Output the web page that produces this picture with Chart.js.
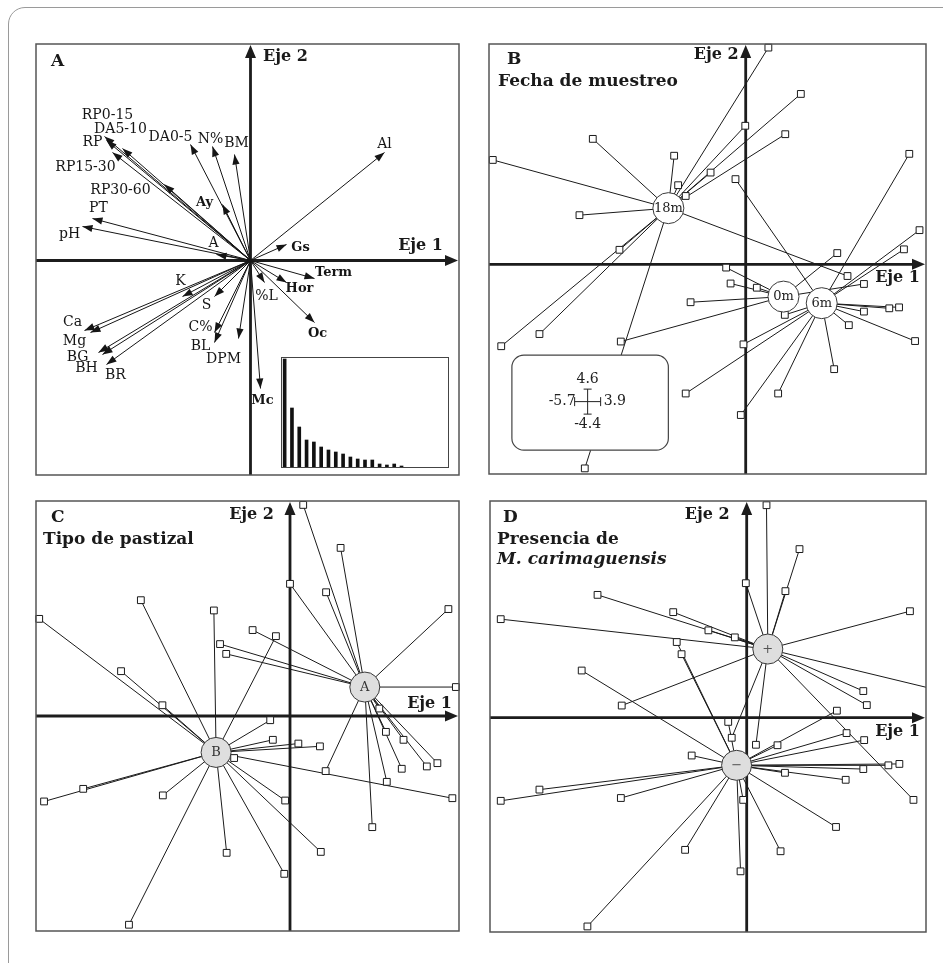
<!DOCTYPE html>
<html lang="es">
<head>
<meta charset="utf-8">
<title>Análisis de componentes principales</title>
<script src="https://cdn.jsdelivr.net/npm/chart.js@4.4.1/dist/chart.umd.min.js"></script>
<style>
  html, body { margin: 0; padding: 0; background: #fff; }
  body { position: relative; width: 943px; height: 963px; overflow: hidden; }
  #marco { position: absolute; left: 8px; top: 7px; width: 1000px; height: 1000px;
           border: 1px solid #9a9a9a; border-top-left-radius: 17px; }
  canvas { position: absolute; }
</style>
</head>
<body>
<div id="marco"></div>
<canvas id="panelA" width="457" height="465" style="left:19px;top:27px"></canvas>
<canvas id="panelB" width="471" height="464" style="left:472px;top:27px"></canvas>
<canvas id="panelC" width="457" height="464" style="left:19px;top:484px"></canvas>
<canvas id="panelD" width="470" height="465" style="left:473px;top:484px"></canvas>
<canvas id="inset" width="170" height="113" style="left:280px;top:356px"></canvas>
<script>
// ---- A: cargas de las variables ----
const variables = ['RP0-15', 'RP', 'DA5-10', 'RP15-30', 'RP30-60', 'DA0-5', 'N%', 'BM', 'Ay', 'PT', 'pH', 'A', 'K', 'S',
  'Ca', 'Mg', 'BG', 'BH', 'BR', 'C%', 'BL', 'DPM', 'Mc', '%L', 'Gs', 'Term', 'Hor', 'Oc', 'Al'];
const cargaEje1 = [-0.73, -0.72, -0.64, -0.69, -0.43, -0.30, -0.19, -0.08, -0.14, -0.79, -0.84, -0.17, -0.34, -0.18,
  -0.83, -0.80, -0.76, -0.74, -0.72, -0.18, -0.18, -0.06, 0.05, 0.07, 0.18, 0.32, 0.18, 0.32, 0.67];
const cargaEje2 = [0.62, 0.60, 0.56, 0.54, 0.38, 0.58, 0.57, 0.53, 0.28, 0.21, 0.17, 0.03, -0.18, -0.18,
  -0.35, -0.36, -0.46, -0.47, -0.52, -0.36, -0.41, -0.39, -0.64, -0.11, 0.08, -0.09, -0.11, -0.31, 0.54];
const negritas = ['Ay', 'Gs', 'Term', 'Hor', 'Oc', 'Mc'];
// desplazamiento de cada etiqueta respecto a la punta de la flecha (px)
const etiquetaDx = [3, -14, -2, -27, -44, -20, -2, 2, -18, 6, -13, -3, -2, -8, -12, -16, -21, -16, 9, -14, -14, -15, 2, 2, 14, 19, 13, 3, 0];
const etiquetaDy = [-21, 2, -19, 15, 6, -7, -7, -11, -2, -10, 8, -11, -15, 9, -8, 9, 5, 14, 11, -5, 4, 21, 12, 14, 3, -6, 6, 11, -8];

// valores propios (recuadro)
const ejesNumero = ['1', '2', '3', '4', '5', '6', '7', '8', '9', '10', '11', '12', '13', '14', '15', '16', '17', '18', '19', '20', '21', '22', '23'];
const valoresPropios = [10.9, 6.0, 4.1, 2.8, 2.6, 2.1, 1.8, 1.6, 1.4, 1.1, 0.9, 0.8, 0.8, 0.4, 0.3, 0.4, 0.2];

// ---- B: fecha de muestreo ----
const fechaNombres = ['18m', '0m', '6m'];
const fechaCentroEje1 = [-1.74, 0.85, 1.71];
const fechaCentroEje2 = [1.20, -0.69, -0.83];
const fechaEje1 = [-3.44, -5.69, -1.61, -1.52, -1.35, -3.74, -2.84, -4.64, -5.50, -3.62, 0.51, 1.24, -0.01, 0.89, -0.79, 2.29,
  -1.24, -2.81, -0.44, -0.34, 0.25, 2.06, 2.66,
  -1.35, 3.68, -0.23, 3.91, 3.56, 3.23, 3.45, 2.66, 0.88, 2.32, 3.81, -0.05, 1.99, 0.73, -0.11];
const fechaEje2 = [2.68, 2.23, 2.32, 1.69, 1.46, 1.05, 0.31, -1.49, -1.75, -4.36, 4.63, 3.64, 2.96, 2.78, 1.96, -0.25,
  -0.81, -1.65, -0.07, -0.41, -0.50, 0.24, -0.42,
  -2.76, 2.36, 1.82, 0.73, 0.32, -0.94, -0.92, -1.01, -1.08, -1.30, -1.64, -1.71, -2.24, -2.76, -3.22];
const fechaGrupo = [0, 0, 0, 0, 0, 0, 0, 0, 0, 0, 0, 0, 0, 0, 0, 0,
  1, 1, 1, 1, 1, 1, 1,
  2, 2, 2, 2, 2, 2, 2, 2, 2, 2, 2, 2, 2, 2, 2];
const fechaRango = ['4.6', '-4.4', '-5.7', '3.9'];

// ---- C: tipo de pastizal ----
const pastoNombres = ['A', 'B'];
const pastoCentroEje1 = [1.70, -1.68];
const pastoCentroEje2 = [0.62, -0.78];
const pastoEje1 = [-0.85, -1.59, -1.45, 0.30, 1.15, 0.00, 0.82, 3.60, 3.77, 2.03, 2.18, 2.58, 3.35, 3.11, 2.54, 0.81, 2.20, 1.87,
  -3.39, -5.70, -1.73, -3.84, -2.90, -1.27, -4.70, -5.59, -2.89, -1.44, -3.66, -0.32, -0.45, -0.39, 0.19, 0.68, 3.69, -0.11, 0.70, -0.13];
const pastoEje2 = [1.84, 1.54, 1.33, 4.52, 3.60, 2.83, 2.65, 2.29, 0.62, 0.16, -0.34, -0.51, -1.01, -1.08, -1.13, -1.18, -1.41, -2.38,
  2.48, 2.08, 2.26, 0.96, 0.23, -0.90, -1.56, -1.83, -1.70, -2.93, -4.47, 1.71, -0.09, -0.51, -0.59, -0.65, -1.76, -1.81, -2.91, -3.38];
const pastoGrupo = [0, 0, 0, 0, 0, 0, 0, 0, 0, 0, 0, 0, 0, 0, 0, 0, 0, 0,
  1, 1, 1, 1, 1, 1, 1, 1, 1, 1, 1, 1, 1, 1, 1, 1, 1, 1, 1, 1];

// ---- D: presencia de M. carimaguensis ----
const presNombres = ['+', '\u2212'];
const presCentroEje1 = [0.48, -0.23];
const presCentroEje2 = [1.47, -1.02];
const presEje1 = [-3.39, -1.67, -0.87, -5.59, -2.84, 0.45, 1.20, -0.02, 0.88, 3.71, -0.27, 4.39, 2.65, 2.73, 3.79, 0.21, -0.34,
  -1.59, -1.48, -3.75, -1.25, -4.71, -5.59, -2.86, -1.40, -3.62, 2.05, 2.27, 2.67, 0.70, 3.22, 3.47, 2.65, 0.87, 2.25, -0.08, 2.03, 0.77, -0.14, -0.42];
const presEje2 = [2.63, 2.26, 1.87, 2.11, 0.26, 4.55, 3.61, 2.88, 2.71, 2.28, 1.72, 0.58, 0.57, 0.27, -1.76, -0.58, -0.43,
  1.62, 1.36, 1.01, -0.81, -1.54, -1.78, -1.72, -2.83, -4.47, 0.15, -0.33, -0.48, -0.59, -1.02, -0.99, -1.10, -1.18, -1.33, -1.76, -2.34, -2.86, -3.29, -0.09];
const presGrupo = [0, 0, 0, 0, 0, 0, 0, 0, 0, 0, 0, 0, 0, 0, 0, 0, 0,
  1, 1, 1, 1, 1, 1, 1, 1, 1, 1, 1, 1, 1, 1, 1, 1, 1, 1, 1, 1, 1, 1, 1];

// margen del lienzo: mayor que el radio de los centroides para que Chart.js no lo agrande
const PAD = 17;
const FONT = '"DejaVu Serif", "Liberation Serif", serif';
const NEGRO = '#1c1c1c';

function opciones(xmin, xmax, ymin, ymax) {
  return {
    responsive: false,
    animation: false,
    events: [],
    devicePixelRatio: 1,
    layout: { padding: PAD },
    plugins: { legend: { display: false }, tooltip: { enabled: false } },
    scales: {
      x: { type: 'linear', display: false, min: xmin, max: xmax },
      y: { type: 'linear', display: false, min: ymin, max: ymax }
    }
  };
}

// ejes con flecha, recuadro y textos del panel
function marcoPlugin(cfg) {
  return {
    id: 'marco',
    beforeDatasetsDraw(chart) {
      const { ctx, chartArea: a, scales } = chart;
      const ox = scales.x.getPixelForValue(0);
      const oy = scales.y.getPixelForValue(0);
      ctx.save();
      ctx.strokeStyle = NEGRO;
      ctx.fillStyle = NEGRO;
      ctx.lineWidth = 2.8;
      ctx.beginPath();
      ctx.moveTo(a.left, oy);
      ctx.lineTo(a.right - 8, oy);
      ctx.moveTo(ox, a.bottom);
      ctx.lineTo(ox, a.top + 8);
      ctx.stroke();
      ctx.beginPath();
      ctx.moveTo(a.right - 1, oy);
      ctx.lineTo(a.right - 14, oy - 5.5);
      ctx.lineTo(a.right - 14, oy + 5.5);
      ctx.closePath();
      ctx.moveTo(ox, a.top + 1);
      ctx.lineTo(ox - 5.5, a.top + 14);
      ctx.lineTo(ox + 5.5, a.top + 14);
      ctx.closePath();
      ctx.fill();
      ctx.restore();
    },
    afterDraw(chart) {
      const { ctx, chartArea: a, scales } = chart;
      const ox = scales.x.getPixelForValue(0);
      const oy = scales.y.getPixelForValue(0);
      ctx.save();
      ctx.strokeStyle = '#555';
      ctx.lineWidth = 1.5;
      ctx.strokeRect(a.left, a.top, a.right - a.left, a.bottom - a.top);
      ctx.fillStyle = '#1a1a1a';
      ctx.textBaseline = 'middle';
      ctx.font = 'bold 16px ' + FONT;
      ctx.textAlign = cfg.eje1.align;
      ctx.fillText('Eje 1', a.right + cfg.eje1.dx, oy + cfg.eje1.dy);
      ctx.textAlign = cfg.eje2.align;
      ctx.fillText('Eje 2', ox + cfg.eje2.dx, a.top + cfg.eje2.dy);
      ctx.textAlign = 'left';
      cfg.titulos.forEach(t => {
        ctx.font = (t.font || 'bold 17px') + ' ' + FONT;
        ctx.fillText(t.text, a.left + t.dx, a.top + t.dy);
      });
      ctx.restore();
    }
  };
}

// puntas de flecha y nombres de las variables (panel A)
const flechasPlugin = {
  id: 'flechas',
  afterDatasetsDraw(chart) {
    const { ctx, scales: { x, y } } = chart;
    const ox = x.getPixelForValue(0), oy = y.getPixelForValue(0);
    ctx.save();
    ctx.fillStyle = '#151515';
    ctx.textBaseline = 'middle';
    ctx.textAlign = 'center';
    variables.forEach((nombre, i) => {
      const tx = x.getPixelForValue(cargaEje1[i]);
      const ty = y.getPixelForValue(cargaEje2[i]);
      const ang = Math.atan2(ty - oy, tx - ox);
      const L = 10, W = 3.6;
      const bx = tx - L * Math.cos(ang), by = ty - L * Math.sin(ang);
      ctx.beginPath();
      ctx.moveTo(tx, ty);
      ctx.lineTo(bx - W * Math.sin(ang), by + W * Math.cos(ang));
      ctx.lineTo(bx + W * Math.sin(ang), by - W * Math.cos(ang));
      ctx.closePath();
      ctx.fill();
      ctx.font = (negritas.includes(nombre) ? 'bold 13px ' : '14px ') + FONT;
      ctx.fillText(nombre, tx + etiquetaDx[i], ty + etiquetaDy[i]);
    });
    ctx.restore();
  }
};

function centroPlugin(nombres, fuente, color) {
  return {
    id: 'centros',
    afterDatasetsDraw(chart) {
      const { ctx } = chart;
      ctx.save();
      ctx.fillStyle = color;
      ctx.font = fuente + ' ' + FONT;
      ctx.textAlign = 'center';
      ctx.textBaseline = 'middle';
      chart.getDatasetMeta(0).data.forEach((pt, i) => ctx.fillText(nombres[i], pt.x, pt.y + 0.5));
      ctx.restore();
    }
  };
}

// recuadro con la amplitud de los ejes (panel B)
const rangoPlugin = {
  id: 'rango',
  afterDatasetsDraw(chart) {
    const { ctx, scales: { x, y } } = chart;
    const l = x.getPixelForValue(-5.26), r = x.getPixelForValue(-1.74);
    const t = y.getPixelForValue(-1.94), b = y.getPixelForValue(-3.97);
    const cx = (l + r) / 2 - 2.5, cy = (t + b) / 2 - 1;
    ctx.save();
    ctx.fillStyle = '#fff';
    ctx.strokeStyle = '#444';
    ctx.lineWidth = 1.2;
    ctx.beginPath();
    ctx.roundRect(l, t, r - l, b - t, 12);
    ctx.fill();
    ctx.stroke();
    ctx.strokeStyle = '#222';
    ctx.lineWidth = 1;
    ctx.beginPath();
    ctx.moveTo(cx - 13, cy); ctx.lineTo(cx + 13, cy);
    ctx.moveTo(cx, cy - 12.5); ctx.lineTo(cx, cy + 12.5);
    ctx.moveTo(cx - 13, cy - 4.5); ctx.lineTo(cx - 13, cy + 4.5);
    ctx.moveTo(cx + 13, cy - 4.5); ctx.lineTo(cx + 13, cy + 4.5);
    ctx.moveTo(cx - 4, cy - 12.5); ctx.lineTo(cx + 4, cy - 12.5);
    ctx.moveTo(cx - 4, cy + 12.5); ctx.lineTo(cx + 4, cy + 12.5);
    ctx.stroke();
    ctx.fillStyle = '#222';
    ctx.font = '14px ' + FONT;
    ctx.textBaseline = 'middle';
    ctx.textAlign = 'center';
    ctx.fillText(fechaRango[0], cx, cy - 22);
    ctx.fillText(fechaRango[1], cx, cy + 23);
    ctx.textAlign = 'right';
    ctx.fillText(fechaRango[2], cx - 12, cy);
    ctx.textAlign = 'left';
    ctx.fillText(fechaRango[3], cx + 16, cy);
    ctx.restore();
  }
};

function estrella(id, xs, ys, grupo, cEje1, cEje2, nombres, est) {
  const rayos = [];
  xs.forEach((v, i) => {
    const g = grupo[i];
    rayos.push({ x: cEje1[g], y: cEje2[g] }, { x: v, y: ys[i] }, { x: null, y: null });
  });
  return new Chart(document.getElementById(id), {
    type: 'scatter',
    data: {
      datasets: [
        {
          label: 'centroides',
          data: cEje1.map((v, i) => ({ x: v, y: cEje2[i] })),
          order: 0,
          pointRadius: est.radio,
          pointBackgroundColor: est.relleno,
          pointBorderColor: '#3a3a3a',
          pointBorderWidth: 1
        },
        {
          label: 'muestras',
          data: xs.map((v, i) => ({ x: v, y: ys[i] })),
          order: 1,
          pointStyle: 'rect',
          pointRadius: 4.8,
          pointBackgroundColor: '#fff',
          pointBorderColor: '#1a1a1a',
          pointBorderWidth: 1,
          clip: est.clip
        },
        {
          label: 'rayos',
          data: rayos,
          order: 2,
          showLine: true,
          pointRadius: 0,
          borderColor: '#1a1a1a',
          borderWidth: 1,
          clip: est.clip
        }
      ]
    },
    options: opciones(est.xmin, est.xmax, est.ymin, est.ymax),
    plugins: [marcoPlugin(est.marco), centroPlugin(nombres, est.fuente, est.colorTexto)].concat(est.extra || [])
  });
}

// Panel A
const ejesA = [];
cargaEje1.forEach((v, i) => {
  ejesA.push({ x: 0, y: 0 }, { x: v, y: cargaEje2[i] }, { x: null, y: null });
});
new Chart(document.getElementById('panelA'), {
  type: 'scatter',
  data: {
    datasets: [{
      label: 'variables',
      data: ejesA,
      showLine: true,
      pointRadius: 0,
      borderColor: '#151515',
      borderWidth: 1
    }]
  },
  options: opciones(-1.0725, 1.0425, -1.0725, 1.0825),
  plugins: [marcoPlugin({
    eje1: { dx: -16, dy: -15, align: 'right' },
    eje2: { dx: 12.5, dy: 13, align: 'left' },
    titulos: [{ text: 'A', dx: 15, dy: 18 }]
  }), flechasPlugin]
});

new Chart(document.getElementById('inset'), {
  type: 'bar',
  data: {
    labels: ejesNumero,
    datasets: [{ label: 'valor propio', data: valoresPropios, backgroundColor: '#111', barThickness: 3 }]
  },
  options: {
    responsive: false,
    animation: false,
    events: [],
    devicePixelRatio: 1,
    layout: { padding: 1 },
    plugins: { legend: { display: false }, tooltip: { enabled: false } },
    scales: {
      x: { display: false },
      y: { display: false, min: 0, max: 11.1 }
    }
  },
  plugins: [{
    id: 'borde',
    afterDraw(chart) {
      const { ctx, chartArea: a } = chart;
      ctx.save();
      ctx.strokeStyle = '#444';
      ctx.lineWidth = 1;
      ctx.strokeRect(a.left + 0.5, a.top + 0.5, a.right - a.left - 1, a.bottom - a.top - 1);
      ctx.restore();
    }
  }]
});

estrella('panelB', fechaEje1, fechaEje2, fechaGrupo, fechaCentroEje1, fechaCentroEje2, fechaNombres, {
  xmin: -5.775, xmax: 4.056, ymin: -4.48, ymax: 4.707,
  radio: 15.5, relleno: '#fff', fuente: '13px', colorTexto: '#222',
  clip: 6,
  marco: {
    eje1: { dx: -6, dy: 14, align: 'right' },
    eje2: { dx: -7, dy: 11, align: 'right' },
    titulos: [{ text: 'B', dx: 18, dy: 16 }, { text: 'Fecha de muestreo', dx: 9, dy: 38 }]
  },
  extra: [rangoPlugin]
});

estrella('panelC', pastoEje1, pastoEje2, pastoGrupo, pastoCentroEje1, pastoCentroEje2, pastoNombres, {
  xmin: -5.773, xmax: 3.841, ymin: -4.604, ymax: 4.604,
  radio: 15, relleno: '#dedede', fuente: '13px', colorTexto: '#333',
  clip: 6,
  marco: {
    eje1: { dx: -7, dy: -12, align: 'right' },
    eje2: { dx: -16, dy: 14, align: 'right' },
    titulos: [{ text: 'C', dx: 15, dy: 17 }, { text: 'Tipo de pastizal', dx: 7, dy: 39 }]
  }
});

estrella('panelD', presEje1, presEje2, presGrupo, presCentroEje1, presCentroEje2, presNombres, {
  xmin: -5.834, xmax: 4.075, ymin: -4.589, ymax: 4.64,
  radio: 15, relleno: '#dedede', fuente: '13px', colorTexto: '#555',
  clip: { left: 6, top: 6, right: 0, bottom: 6 },
  marco: {
    eje1: { dx: -6, dy: 14, align: 'right' },
    eje2: { dx: -17, dy: 14, align: 'right' },
    titulos: [
      { text: 'D', dx: 13, dy: 17 },
      { text: 'Presencia de', dx: 7, dy: 39 },
      { text: 'M. carimaguensis', dx: 7, dy: 59, font: 'italic bold 17px' }
    ]
  }
});
</script>
</body>
</html>
